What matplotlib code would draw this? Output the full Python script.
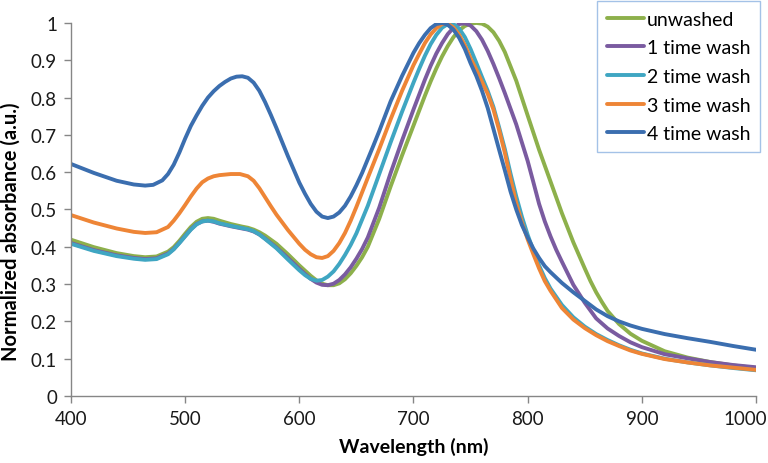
import matplotlib
matplotlib.use("Agg")
from matplotlib import pyplot as plt
from matplotlib.transforms import ScaledTranslation

# each spectrum: wavelength (nm) and normalized absorbance
wl_unwashed = [400, 420, 440, 455, 465, 475, 485, 490, 495, 500, 505, 510, 515, 520, 525, 530,
               540, 550, 555, 560, 565, 570, 580, 590, 600, 605, 610, 615, 620, 625, 630, 635,
               640, 645, 650, 655, 660, 670, 680, 690, 700, 705, 710, 715, 720, 725, 730, 735,
               740, 745, 750, 755, 760, 765, 770, 775, 780, 790, 800, 810, 820, 830, 840, 850,
               855, 860, 865, 870, 880, 890, 900, 920, 940, 960, 980, 1000]
unwashed = [0.419, 0.399, 0.383, 0.375, 0.372, 0.374, 0.387, 0.399, 0.416, 0.435, 0.453, 0.467,
            0.475, 0.477, 0.475, 0.470, 0.461, 0.454, 0.451, 0.446, 0.439, 0.430, 0.408, 0.380,
            0.350, 0.336, 0.322, 0.310, 0.301, 0.297, 0.297, 0.302, 0.313, 0.329, 0.349, 0.372,
            0.400, 0.475, 0.562, 0.645, 0.725, 0.765, 0.805, 0.843, 0.878, 0.910, 0.938, 0.962,
            0.980, 0.992, 0.998, 1.000, 0.998, 0.990, 0.975, 0.952, 0.922, 0.845, 0.752, 0.660,
            0.575, 0.490, 0.412, 0.342, 0.308, 0.278, 0.252, 0.228, 0.193, 0.167, 0.148, 0.120,
            0.103, 0.091, 0.082, 0.075]

wl_wash_1 = [400, 420, 440, 455, 465, 475, 485, 490, 495, 500, 505, 510, 515, 520, 525, 530,
             540, 550, 555, 560, 565, 570, 580, 590, 600, 605, 610, 615, 620, 625, 630, 635,
             640, 645, 650, 655, 660, 670, 680, 690, 700, 705, 710, 715, 720, 725, 730, 735,
             740, 745, 750, 755, 760, 765, 770, 775, 780, 790, 800, 805, 810, 815, 820, 825,
             830, 840, 850, 860, 870, 880, 890, 900, 920, 940, 960, 980, 1000]
wash_1 = [0.410, 0.391, 0.377, 0.370, 0.367, 0.369, 0.382, 0.394, 0.411, 0.429, 0.447, 0.461,
          0.468, 0.470, 0.467, 0.462, 0.455, 0.449, 0.446, 0.441, 0.433, 0.422, 0.398, 0.370,
          0.341, 0.327, 0.314, 0.304, 0.298, 0.297, 0.301, 0.311, 0.326, 0.345, 0.368, 0.394,
          0.425, 0.505, 0.598, 0.685, 0.768, 0.808, 0.848, 0.885, 0.918, 0.946, 0.970, 0.987,
          0.997, 0.999, 0.993, 0.978, 0.955, 0.925, 0.890, 0.852, 0.812, 0.728, 0.630, 0.573,
          0.515, 0.468, 0.428, 0.392, 0.360, 0.298, 0.250, 0.208, 0.181, 0.161, 0.144, 0.131,
          0.112, 0.101, 0.091, 0.083, 0.077]

wl_wash_2 = [400, 420, 440, 455, 465, 475, 485, 490, 495, 500, 505, 510, 515, 520, 525, 530,
             540, 550, 555, 560, 565, 570, 580, 590, 600, 605, 610, 615, 620, 625, 630, 635,
             640, 645, 650, 660, 670, 680, 690, 700, 705, 710, 715, 720, 725, 730, 735, 740,
             745, 750, 755, 760, 765, 770, 775, 780, 785, 790, 795, 800, 805, 810, 815, 820,
             830, 840, 850, 860, 870, 880, 890, 900, 920, 940, 960, 980, 1000]
wash_2 = [0.408, 0.389, 0.375, 0.368, 0.365, 0.367, 0.380, 0.393, 0.410, 0.428, 0.446, 0.460,
          0.468, 0.470, 0.468, 0.463, 0.456, 0.450, 0.447, 0.442, 0.433, 0.421, 0.396, 0.366,
          0.337, 0.324, 0.314, 0.309, 0.311, 0.320, 0.334, 0.354, 0.378, 0.405, 0.436, 0.510,
          0.595, 0.680, 0.762, 0.840, 0.877, 0.912, 0.943, 0.968, 0.987, 0.997, 0.997, 0.985,
          0.962, 0.930, 0.893, 0.855, 0.818, 0.775, 0.720, 0.662, 0.596, 0.535, 0.480, 0.432,
          0.390, 0.350, 0.316, 0.288, 0.244, 0.211, 0.186, 0.166, 0.150, 0.136, 0.124, 0.114,
          0.100, 0.090, 0.082, 0.075, 0.069]

wl_wash_3 = [400, 420, 440, 455, 465, 475, 485, 490, 495, 500, 505, 510, 515, 520, 525, 530,
             540, 548, 555, 560, 565, 570, 575, 580, 590, 600, 605, 610, 615, 620, 625, 630,
             635, 640, 645, 650, 660, 670, 680, 690, 700, 705, 710, 715, 720, 725, 730, 735,
             740, 745, 750, 755, 760, 765, 770, 775, 780, 785, 790, 795, 800, 805, 810, 815,
             820, 830, 840, 850, 860, 870, 880, 890, 900, 920, 940, 960, 980, 1000]
wash_3 = [0.485, 0.465, 0.449, 0.440, 0.437, 0.439, 0.453, 0.470, 0.490, 0.512, 0.535, 0.556,
          0.573, 0.583, 0.589, 0.592, 0.595, 0.595, 0.589, 0.577, 0.557, 0.533, 0.509, 0.486,
          0.445, 0.408, 0.392, 0.380, 0.372, 0.370, 0.375, 0.389, 0.410, 0.437, 0.470, 0.507,
          0.585, 0.662, 0.742, 0.818, 0.887, 0.917, 0.946, 0.969, 0.986, 0.997, 0.998, 0.988,
          0.968, 0.940, 0.905, 0.875, 0.842, 0.810, 0.768, 0.713, 0.652, 0.582, 0.517, 0.465,
          0.420, 0.380, 0.342, 0.308, 0.282, 0.236, 0.205, 0.182, 0.163, 0.147, 0.134, 0.122,
          0.113, 0.099, 0.090, 0.082, 0.076, 0.070]

wl_wash_4 = [400, 420, 440, 455, 465, 472, 480, 485, 490, 495, 500, 505, 510, 515, 520, 525,
             530, 535, 540, 545, 550, 555, 560, 565, 570, 575, 580, 590, 600, 605, 610, 615,
             620, 625, 630, 635, 640, 645, 650, 655, 660, 665, 670, 680, 690, 700, 705, 710,
             715, 720, 725, 730, 735, 740, 745, 750, 755, 760, 765, 770, 775, 780, 785, 790,
             795, 800, 805, 810, 815, 820, 830, 840, 850, 860, 870, 880, 890, 900, 920, 940,
             960, 980, 1000]
wash_4 = [0.622, 0.598, 0.577, 0.567, 0.564, 0.566, 0.578, 0.595, 0.620, 0.653, 0.690, 0.724,
          0.752, 0.778, 0.800, 0.817, 0.831, 0.842, 0.851, 0.856, 0.857, 0.853, 0.840, 0.818,
          0.788, 0.754, 0.718, 0.643, 0.572, 0.542, 0.515, 0.494, 0.481, 0.477, 0.481, 0.492,
          0.510, 0.535, 0.565, 0.598, 0.635, 0.672, 0.710, 0.790, 0.858, 0.920, 0.946, 0.968,
          0.986, 0.997, 1.000, 0.995, 0.982, 0.960, 0.930, 0.892, 0.858, 0.818, 0.772, 0.716,
          0.660, 0.605, 0.548, 0.500, 0.458, 0.425, 0.395, 0.370, 0.348, 0.332, 0.303, 0.278,
          0.255, 0.232, 0.214, 0.200, 0.189, 0.180, 0.166, 0.155, 0.145, 0.134, 0.124]

labels = ["unwashed", "1 time wash", "2 time wash", "3 time wash", "4 time wash"]
colors = ["#8DB04B", "#7A5BA0", "#3FA6C2", "#EE8536", "#3B6EAF"]

x_ticks = [400, 500, 600, 700, 800, 900, 1000]
y_ticks = [0, 0.1, 0.2, 0.3, 0.4, 0.5, 0.6, 0.7, 0.8, 0.9, 1]

plt.rcParams['font.family'] = ['Lato', 'DejaVu Sans']

fig = plt.figure(figsize=(7.68, 4.64), dpi=100)
ax = fig.add_axes([0.0924, 0.1444, 0.892, 0.804])

curves = [(wl_unwashed, unwashed), (wl_wash_1, wash_1), (wl_wash_2, wash_2),
          (wl_wash_3, wash_3), (wl_wash_4, wash_4)]
for (xs, ys), lab, col in zip(curves, labels, colors):
    ax.plot(xs, ys, color=col, lw=2.8, label=lab, solid_capstyle='round',
            solid_joinstyle='round')

ax.set_xlim(400, 1000)
ax.set_ylim(0, 1)
ax.set_xticks(x_ticks)
ax.set_yticks(y_ticks)
ax.set_yticklabels([f"{v:g}" for v in y_ticks])

for side in ['top', 'right']:
    ax.spines[side].set_visible(False)
for side in ['left', 'bottom']:
    ax.spines[side].set_color('#868686')
    ax.spines[side].set_linewidth(1.0)
ax.tick_params(direction='out', length=5, width=1, color='#868686',
               labelsize=13.5, labelcolor='#1a1a1a', pad=5)

# the last x label sits at the right edge of the figure, nudge it inside
last = ax.get_xticklabels()[-1]
last.set_transform(last.get_transform() + ScaledTranslation(-0.11, 0, fig.dpi_scale_trans))

ax.set_xlabel("Wavelength (nm)", fontsize=14, fontweight='bold')
ax.set_ylabel("Normalized absorbance (a.u.)", fontsize=14.5, fontweight='bold')
ax.xaxis.set_label_coords(0.5, -0.134)
ax.xaxis.label.set_va('center')
ax.yaxis.set_label_coords(-0.0876, 0.442)
ax.yaxis.label.set_va('center')

leg = fig.legend(loc='upper right', bbox_to_anchor=(0.990, 0.996), borderaxespad=0,
                 fancybox=False, edgecolor='#8DB3E2', fontsize=14,
                 handlelength=1.9, handletextpad=0.15, labelspacing=0.6,
                 borderpad=0.5)
leg.get_frame().set_linewidth(1.0)

fig.savefig("out.png", dpi=100)
